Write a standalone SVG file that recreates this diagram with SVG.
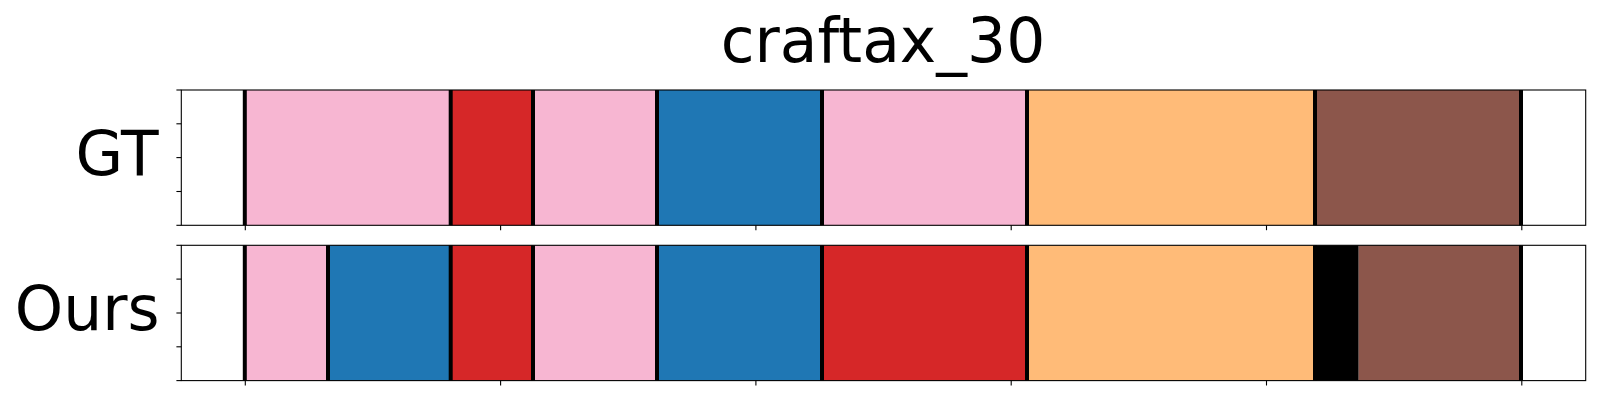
<svg xmlns="http://www.w3.org/2000/svg" width="1600" height="400" viewBox="0 0 1600 400">
<style>
text{font-family:"DejaVu Sans","Liberation Sans",sans-serif;fill:#000}
.title{font-size:61.5px;text-anchor:middle}
.lab{font-size:61.5px;text-anchor:end}
.pink{fill:#f7b6d2}.red{fill:#d62728}.blue{fill:#1f77b4}.orange{fill:#ffbb78}.brown{fill:#8c564b}.blk{fill:#000}
.bd{stroke:#000;stroke-width:4}
.frame{fill:none;stroke:#000;stroke-width:1.1}
.tick{stroke:#000;stroke-width:1.1}
</style>
<rect width="1600" height="400" fill="#fff"/>
<text class="title" x="883" y="61.5">craftax_30</text>

<g id="gt">
<text class="lab" x="158.5" y="175">GT</text>
<rect class="pink" x="245.3" y="90" width="205.4" height="135.3"/>
<rect class="red" x="450.7" y="90" width="82.3" height="135.3"/>
<rect class="pink" x="533" y="90" width="124" height="135.3"/>
<rect class="blue" x="657" y="90" width="165" height="135.3"/>
<rect class="pink" x="822" y="90" width="205" height="135.3"/>
<rect class="orange" x="1027" y="90" width="288" height="135.3"/>
<rect class="brown" x="1315" y="90" width="206" height="135.3"/>
<g class="bd">
<line x1="244.8" y1="90" x2="244.8" y2="225.3"/>
<line x1="450.7" y1="90" x2="450.7" y2="225.3"/>
<line x1="533" y1="90" x2="533" y2="225.3"/>
<line x1="657" y1="90" x2="657" y2="225.3"/>
<line x1="822" y1="90" x2="822" y2="225.3"/>
<line x1="1027" y1="90" x2="1027" y2="225.3"/>
<line x1="1315" y1="90" x2="1315" y2="225.3"/>
<line x1="1521" y1="90" x2="1521" y2="225.3"/>
</g>
<rect class="frame" x="181.3" y="90" width="1404.4" height="135.3"/>
<g class="tick">
<line x1="176.4" y1="90" x2="181.3" y2="90"/>
<line x1="176.4" y1="123.8" x2="181.3" y2="123.8"/>
<line x1="176.4" y1="157.6" x2="181.3" y2="157.6"/>
<line x1="176.4" y1="191.5" x2="181.3" y2="191.5"/>
<line x1="176.4" y1="225.3" x2="181.3" y2="225.3"/>
<line x1="245.3" y1="225.3" x2="245.3" y2="230.2"/>
<line x1="500.6" y1="225.3" x2="500.6" y2="230.2"/>
<line x1="755.9" y1="225.3" x2="755.9" y2="230.2"/>
<line x1="1011.2" y1="225.3" x2="1011.2" y2="230.2"/>
<line x1="1266.5" y1="225.3" x2="1266.5" y2="230.2"/>
<line x1="1521.8" y1="225.3" x2="1521.8" y2="230.2"/>
</g>
</g>

<g id="ours">
<text class="lab" x="159.5" y="330">Ours</text>
<rect class="pink" x="245.3" y="245.3" width="82.7" height="135.3"/>
<rect class="blue" x="328" y="245.3" width="122.7" height="135.3"/>
<rect class="red" x="450.7" y="245.3" width="82.3" height="135.3"/>
<rect class="pink" x="533" y="245.3" width="124" height="135.3"/>
<rect class="blue" x="657" y="245.3" width="165" height="135.3"/>
<rect class="red" x="822" y="245.3" width="205" height="135.3"/>
<rect class="orange" x="1027" y="245.3" width="288" height="135.3"/>
<rect class="blk" x="1315" y="245.3" width="43.7" height="135.3"/>
<rect class="brown" x="1358.7" y="245.3" width="162.3" height="135.3"/>
<g class="bd">
<line x1="244.8" y1="245.3" x2="244.8" y2="380.6"/>
<line x1="328" y1="245.3" x2="328" y2="380.6"/>
<line x1="450.7" y1="245.3" x2="450.7" y2="380.6"/>
<line x1="533" y1="245.3" x2="533" y2="380.6"/>
<line x1="657" y1="245.3" x2="657" y2="380.6"/>
<line x1="822" y1="245.3" x2="822" y2="380.6"/>
<line x1="1027" y1="245.3" x2="1027" y2="380.6"/>
<line x1="1315" y1="245.3" x2="1315" y2="380.6"/>
<line x1="1521" y1="245.3" x2="1521" y2="380.6"/>
</g>
<rect class="frame" x="181.3" y="245.3" width="1404.4" height="135.3"/>
<g class="tick">
<line x1="176.4" y1="245.3" x2="181.3" y2="245.3"/>
<line x1="176.4" y1="279.1" x2="181.3" y2="279.1"/>
<line x1="176.4" y1="313" x2="181.3" y2="313"/>
<line x1="176.4" y1="346.8" x2="181.3" y2="346.8"/>
<line x1="176.4" y1="380.6" x2="181.3" y2="380.6"/>
<line x1="245.3" y1="380.6" x2="245.3" y2="385.5"/>
<line x1="500.6" y1="380.6" x2="500.6" y2="385.5"/>
<line x1="755.9" y1="380.6" x2="755.9" y2="385.5"/>
<line x1="1011.2" y1="380.6" x2="1011.2" y2="385.5"/>
<line x1="1266.5" y1="380.6" x2="1266.5" y2="385.5"/>
<line x1="1521.8" y1="380.6" x2="1521.8" y2="385.5"/>
</g>
</g>
</svg>
